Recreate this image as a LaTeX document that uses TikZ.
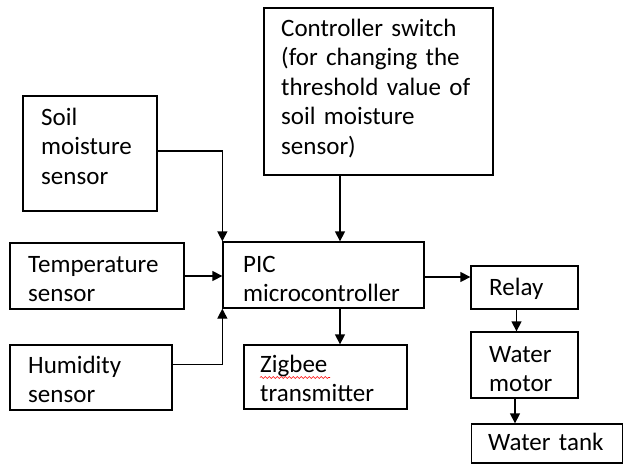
\documentclass[tikz,border=0pt]{standalone}
\usepackage{fontspec}
\setmainfont{Carlito}
\usetikzlibrary{arrows.meta,decorations.pathmorphing,calc}
\begin{document}
\begin{tikzpicture}[x=1pt,y=-1pt,
  box/.style={draw=black,line width=1.3pt,rectangle,inner sep=0pt},
  txt/.style={anchor=base west,inner sep=0pt,align=left,text width=250pt,
    font=\fontsize{25}{29.5}\selectfont},
  arr/.style={draw=black,line width=1.3pt,-{Triangle[length=10pt,width=10pt]}}]
\useasboundingbox (0,0) rectangle (624,466);
% boxes
\node[box,minimum width=134pt,minimum height=115pt] (soil) at (90,153.5) {};
\node[box,minimum width=174pt,minimum height=66pt] (temp) at (97,276) {};
\node[box,minimum width=162pt,minimum height=65pt] (hum) at (91,377.5) {};
\node[box,minimum width=229pt,minimum height=167pt] (ctrl) at (378.5,91.5) {};
\node[box,minimum width=201pt,minimum height=66pt] (pic) at (323.5,275) {};
\node[box,minimum width=163pt,minimum height=64pt] (zig) at (325.5,377) {};
\node[box,minimum width=107pt,minimum height=43pt] (relay) at (524.5,287.5) {};
\node[box,minimum width=107pt,minimum height=66pt] (motor) at (524.5,365) {};
\node[box,minimum width=151pt,minimum height=39pt] (tank) at (547,443.5) {};
% texts
\node[txt] (soilt) at (41,125) {Soil\\moisture\\sensor};
\node[txt] (tempt) at (28,272) {Temperature\\sensor};
\node[txt] (humt) at (28,373) {Humidity\\sensor};
\node[txt] (ctrlt) at (281,36) {Controller switch\\(for changing the\\threshold value of\\soil moisture\\sensor)};
\node[txt] (pict) at (243,272) {PIC\\microcontroller};
\node[txt] (zigt) at (260,372) {Zigbee\\transmitter};
\node[txt] (relayt) at (489,295) {Relay};
\node[txt] (motort) at (489,362) {Water\\motor};
\node[txt] (tankt) at (488,450) {Water tank};
% spell-check underline
\coordinate (wa) at (260,377.5);
\coordinate (wb) at (330,377.5);
\draw[red,line width=0.6pt,decorate,decoration={snake,amplitude=1pt,segment length=4pt}] (wa) -- (wb);
% connector helpers
\coordinate (cx) at (340,0);
\coordinate (rx) at (516.5,0);
\coordinate (mx) at (515,0);
\coordinate (hy) at ($(hum.north east)!0.3!(hum.south east)$);
% connectors
\draw[arr] ($(soil.east)+(0,-2.5)$) -| (pic.north west);
\draw[arr] (temp.east) -- (temp.east -| pic.west);
\draw[arr] (hy) -| (pic.south west);
\draw[arr] (ctrl.south -| cx) -- (pic.north -| cx);
\draw[arr] (pic.south -| cx) -- (zig.north -| cx);
\draw[arr] ($(pic.east)+(0,2)$) -- ($(pic.east -| relay.west)+(0,2)$);
\draw[arr] (relay.south -| rx) -- (motor.north -| rx);
\draw[arr] (motor.south -| mx) -- (tank.north -| mx);
\end{tikzpicture}
\end{document}
